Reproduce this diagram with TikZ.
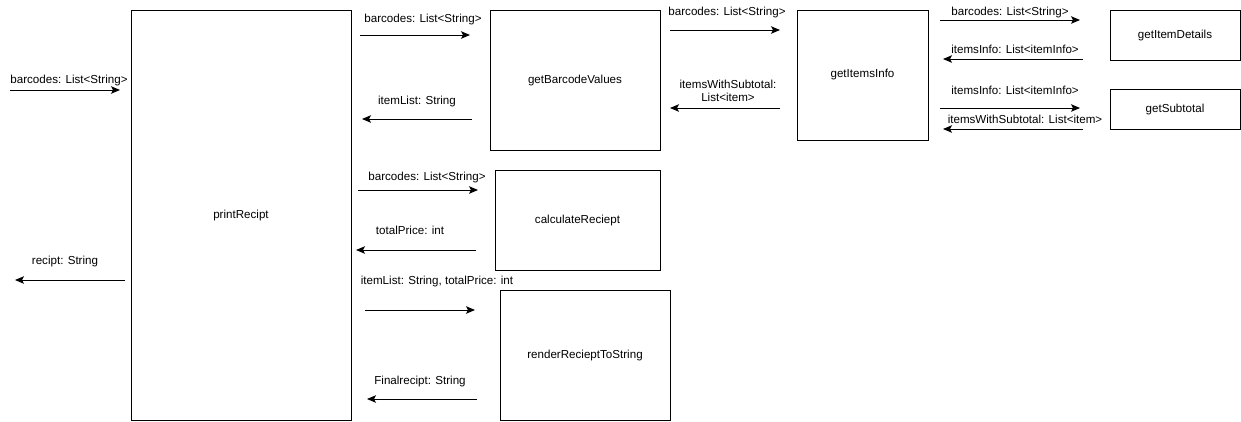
\documentclass[tikz,border=0pt]{standalone}
\usepackage{fontspec}
\setmainfont{Liberation Sans}
\usetikzlibrary{positioning}
\usetikzlibrary{arrows.meta}

\begin{document}
\begin{tikzpicture}[x=1pt,y=-1pt,
	font=\fontsize{11.6}{13}\selectfont,
	func/.style={draw, line width=0.8pt, inner sep=0pt, align=center},
	msg/.style={draw, line width=0.9pt, -{Stealth[length=9pt,width=7.5pt,inset=2pt]}},
	lbl/.style={inner sep=1pt, align=center}
]
 \useasboundingbox (0,0) rectangle (1241,421);
 % functions
 \node[func, minimum width=220pt, minimum height=410pt] (print) at (241,215) {printRecipt};
 \node[func, minimum width=170pt, minimum height=140pt] (barcode) at (575,80) {getBarcodeValues};
 \node[func, minimum width=131pt, minimum height=130pt] (items) at (862.5,75) {getItemsInfo};
 \node[func, minimum width=130pt, minimum height=50pt] (details) at (1175,35) {getItemDetails};
 \node[func, minimum width=130pt, minimum height=40pt] (subtotal) at (1175,109) {getSubtotal};
 \node[func, minimum width=165pt, minimum height=100pt] (calc) at (577.5,220) {calculateReciept};
 \node[func, minimum width=170pt, minimum height=130pt] (render) at (585,355) {renderRecieptToString};

 % arrow ends
 \coordinate (in1) at (10,90);    \coordinate (in2) at (120,90);
 \coordinate (out1) at (125,280); \coordinate (out2) at (15,280);
 \coordinate (a1) at (360,35);    \coordinate (a2) at (470,35);
 \coordinate (b1) at (472,119);   \coordinate (b2) at (362,119);
 \coordinate (c1) at (670,30);    \coordinate (c2) at (780,30);
 \coordinate (d1) at (780,108);   \coordinate (d2) at (670,108);
 \coordinate (e1) at (940,20);    \coordinate (e2) at (1080,20);
 \coordinate (f1) at (1083,59);   \coordinate (f2) at (943,59);
 \coordinate (g1) at (940,108);   \coordinate (g2) at (1080,108);
 \coordinate (h1) at (1083,129);  \coordinate (h2) at (943,129);
 \coordinate (i1) at (358,190);   \coordinate (i2) at (478,190);
 \coordinate (j1) at (476,250);   \coordinate (j2) at (356,250);
 \coordinate (k1) at (365,310);   \coordinate (k2) at (475,310);
 \coordinate (l1) at (477,399);   \coordinate (l2) at (367,399);

 \draw[msg] (in1) -- (in2);
 \draw[msg] (out1) -- (out2);
 \draw[msg] (a1) -- (a2);
 \draw[msg] (b1) -- (b2);
 \draw[msg] (c1) -- (c2);
 \draw[msg] (d1) -- (d2);
 \draw[msg] (e1) -- (e2);
 \draw[msg] (f1) -- (f2);
 \draw[msg] (g1) -- (g2);
 \draw[msg] (h1) -- (h2);
 \draw[msg] (i1) -- (i2);
 \draw[msg] (j1) -- (j2);
 \draw[msg] (k1) -- (k2);
 \draw[msg] (l1) -- (l2);

 % labels
 \node[lbl] (lin) at (69,80) {barcodes: List<String>};
 \node[lbl] (lout) at (65,261) {recipt: String};
 \node[lbl] (la) at (423,19) {barcodes: List<String>};
 \node[lbl] (lb) at (417,101) {itemList: String};
 \node[lbl] (lc) at (727,12) {barcodes: List<String>};
 \node[lbl] (ld) at (728,91) {itemsWithSubtotal:\\List<item>};
 \node[lbl] (le) at (1010,12) {barcodes: List<String>};
 \node[lbl] (lf) at (1015,49) {itemsInfo: List<itemInfo>};
 \node[lbl] (lg) at (1015,90) {itemsInfo: List<itemInfo>};
 \node[lbl] (lh) at (1025,119) {itemsWithSubtotal: List<item>};
 \node[lbl] (li) at (427,177) {barcodes: List<String>};
 \node[lbl] (lj) at (410,230) {totalPrice: int};
 \node[lbl] (lk) at (437,281) {itemList: String, totalPrice: int};
 \node[lbl] (ll) at (420,381) {Finalrecipt: String};
\end{tikzpicture}
\end{document}
